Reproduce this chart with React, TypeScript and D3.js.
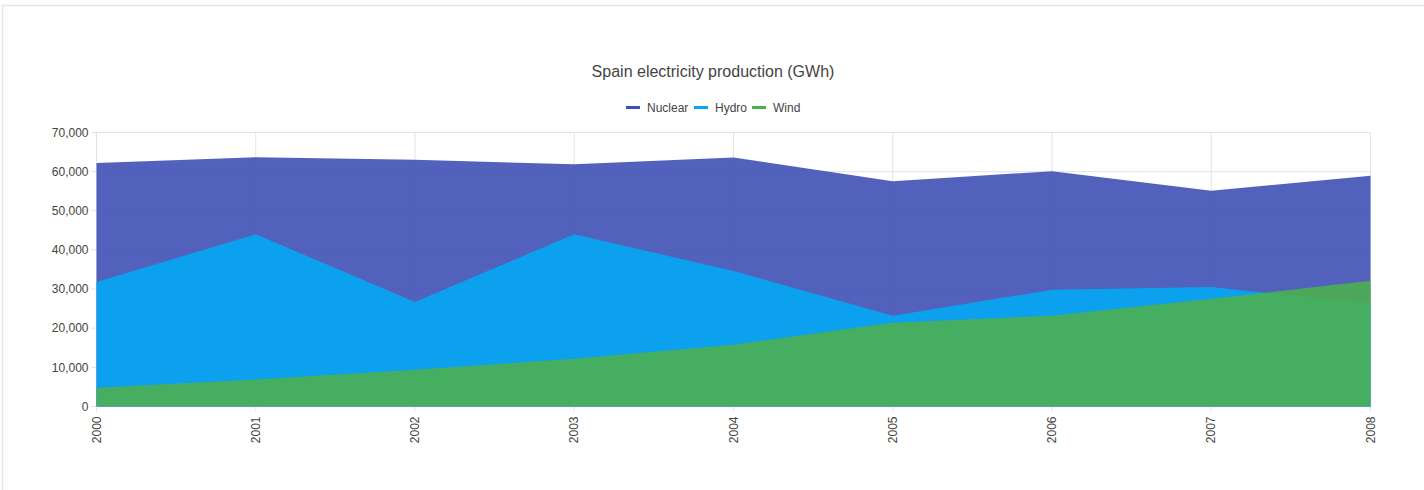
import React, { useEffect, useRef } from "react";
import * as d3 from "d3";

const years = ["2000", "2001", "2002", "2003", "2004", "2005", "2006", "2007", "2008"];
const nuclear = [62206, 63708, 63016, 61875, 63606, 57539, 60126, 55103, 58973];
const hydro = [31800, 44000, 26700, 44000, 34600, 23200, 29800, 30500, 26300];
const wind = [4800, 6900, 9400, 12200, 15800, 21400, 23200, 27500, 32100];
const seriesNames = ["Nuclear", "Hydro", "Wind"];
const seriesColors = ["#3F51B5", "#03A9F4", "#4CAF50"];
const yTicks = [0, 10000, 20000, 30000, 40000, 50000, 60000, 70000];
const title = "Spain electricity production (GWh)";

const W = 1424;
const H = 490;
const left = 96.5;
const right = 1370.5;
const top = 132.5;
const bottom = 406.5;
const FONT = "'Liberation Sans', Arial, sans-serif";

export default function App() {
  const ref = useRef<SVGSVGElement>(null);

  useEffect(() => {
    const svg = d3.select(ref.current);
    svg.selectAll("*").remove();

    // card border
    svg.append("rect").attr("x", 2.5).attr("y", 5.5).attr("width", W + 10).attr("height", H + 10)
      .attr("fill", "#fff").attr("stroke", "#e6e6e6").attr("stroke-width", 1.5);

    const x = d3.scalePoint<string>().domain(years).range([left, right]);
    const y = d3.scaleLinear().domain([0, 70000]).range([bottom, top]);

    // gridlines
    const g = svg.append("g");
    yTicks.forEach((t) => {
      g.append("line").attr("x1", left - 5).attr("x2", right).attr("y1", y(t)).attr("y2", y(t))
        .attr("stroke", "#e3e3e3").attr("stroke-width", 1);
      g.append("text").attr("x", left - 8).attr("y", y(t)).attr("dy", "0.35em")
        .attr("text-anchor", "end").attr("font-family", FONT).attr("font-size", 12)
        .attr("fill", "#444").text(d3.format(",")(t));
    });
    years.forEach((yr) => {
      g.append("line").attr("x1", x(yr)!).attr("x2", x(yr)!).attr("y1", top).attr("y2", bottom + 5)
        .attr("stroke", "#e3e3e3").attr("stroke-width", 1);
      g.append("text")
        .attr("transform", `translate(${x(yr)! + 4},${bottom + 10}) rotate(-90)`)
        .attr("text-anchor", "end").attr("font-family", FONT).attr("font-size", 12)
        .attr("fill", "#444").text(yr);
    });

    const data = [nuclear, hydro, wind];
    data.forEach((vals, i) => {
      const area = d3.area<number>()
        .x((_, j) => x(years[j])!)
        .y0(y(0))
        .y1((d) => y(d));
      svg.append("path").attr("d", area(vals)!).attr("fill", seriesColors[i]).attr("fill-opacity", 0.9);
    });

    // title
    svg.append("text").attr("x", 713).attr("y", 77).attr("text-anchor", "middle")
      .attr("font-family", FONT).attr("font-size", 16).attr("fill", "#444").text(title);

    // legend
    const legendItems = [
      { sx: 626, tx: 647 },
      { sx: 694, tx: 715 },
      { sx: 752, tx: 773 },
    ];
    seriesNames.forEach((name, i) => {
      svg.append("line").attr("x1", legendItems[i].sx).attr("x2", legendItems[i].sx + 14)
        .attr("y1", 107.5).attr("y2", 107.5).attr("stroke", seriesColors[i]).attr("stroke-width", 3);
      svg.append("text").attr("x", legendItems[i].tx).attr("y", 107.5).attr("dy", "0.35em")
        .attr("font-family", FONT).attr("font-size", 12).attr("fill", "#444").text(name);
    });
  }, []);

  return (
    <svg
      ref={ref}
      width={W}
      height={H}
      style={{ position: "fixed", left: 0, top: 0, display: "block", background: "#fff" }}
    />
  );
}
